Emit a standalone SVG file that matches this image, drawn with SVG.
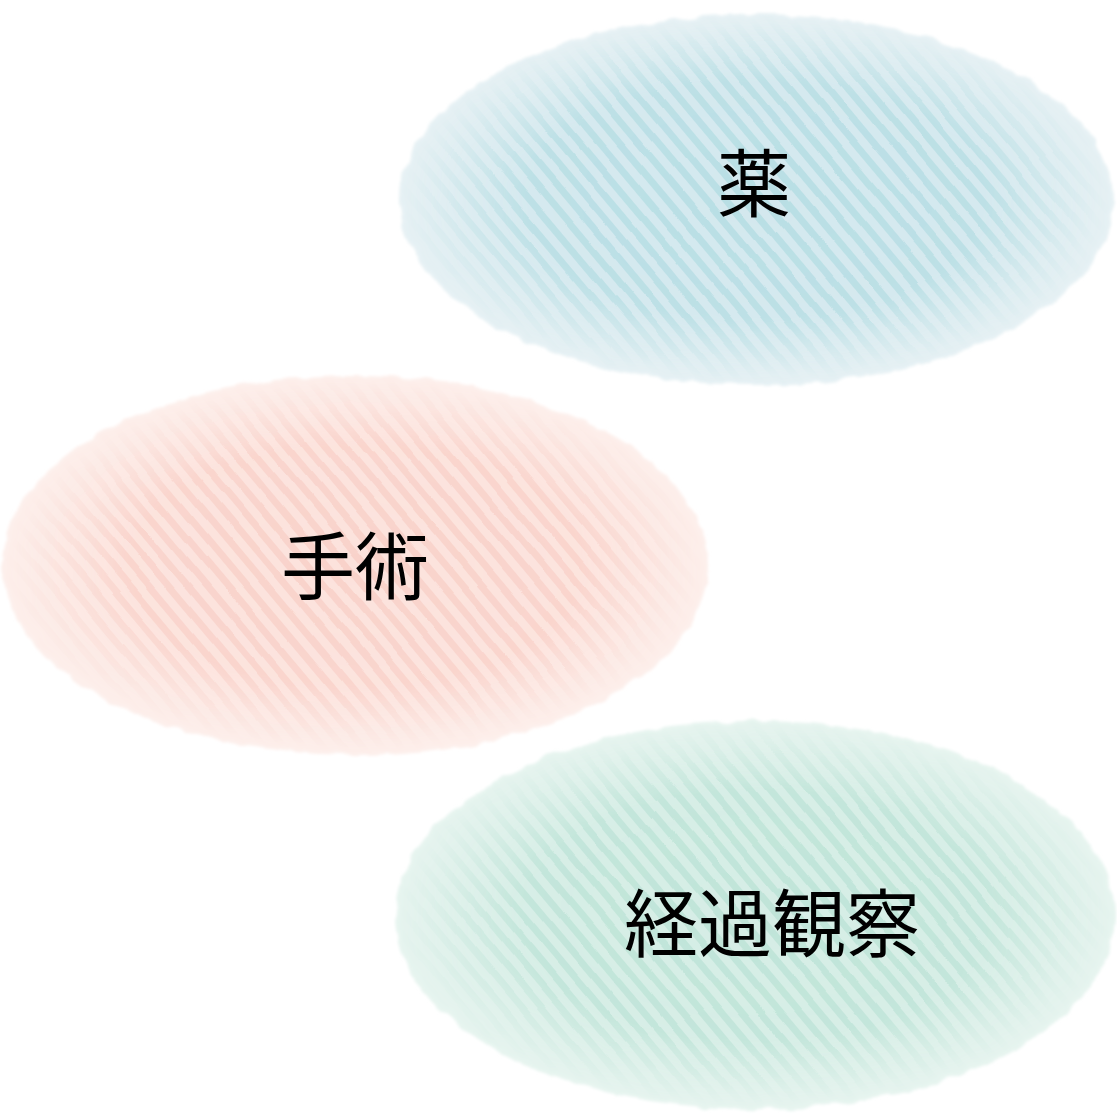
<svg xmlns="http://www.w3.org/2000/svg" width="1117" height="1114" viewBox="0 0 1117 1114">
  <style>
    .label { font-family: "Noto Sans CJK JP", "Noto Sans CJK SC", sans-serif; font-size: 74px; fill: #000; text-anchor: middle; }
  </style>
  <defs>
    <filter id="wob" x="-5%" y="-5%" width="110%" height="110%">
      <feTurbulence type="fractalNoise" baseFrequency="0.015" numOctaves="1" seed="4" result="n"/>
      <feDisplacementMap in="SourceGraphic" in2="n" scale="6" xChannelSelector="R" yChannelSelector="G"/>
    </filter>
    <filter id="soft" x="-5%" y="-5%" width="110%" height="110%">
      <feTurbulence type="fractalNoise" baseFrequency="0.05" numOctaves="2" seed="7" result="n"/>
      <feDisplacementMap in="SourceGraphic" in2="n" scale="9" xChannelSelector="R" yChannelSelector="G" result="d"/>
      <feGaussianBlur in="d" stdDeviation="1.5"/>
    </filter>
    <radialGradient id="fade">
      <stop offset="0" stop-color="#fff" stop-opacity="1"/>
      <stop offset="0.65" stop-color="#fff" stop-opacity="0.9"/>
      <stop offset="1" stop-color="#fff" stop-opacity="0"/>
    </radialGradient>
    <mask id="mBlue" maskUnits="userSpaceOnUse" x="0" y="0" width="1117" height="1114">
      <ellipse cx="756" cy="200" rx="354" ry="183" fill="url(#fade)" filter="url(#soft)"/>
    </mask>
    <mask id="mPink" maskUnits="userSpaceOnUse" x="0" y="0" width="1117" height="1114">
      <ellipse cx="355" cy="565" rx="350" ry="187" fill="url(#fade)" filter="url(#soft)"/>
    </mask>
    <mask id="mGreen" maskUnits="userSpaceOnUse" x="0" y="0" width="1117" height="1114">
      <ellipse cx="755" cy="915" rx="356" ry="191" fill="url(#fade)" filter="url(#soft)"/>
    </mask>
    <pattern id="hBlue" patternUnits="userSpaceOnUse" width="15" height="15" patternTransform="rotate(50)">
      <rect width="15" height="15" fill="#d3e8ee"/>
      <rect y="4" width="15" height="7" fill="#b8dee4"/>
    </pattern>
    <pattern id="hPink" patternUnits="userSpaceOnUse" width="15" height="15" patternTransform="rotate(50)">
      <rect width="15" height="15" fill="#fce2dc"/>
      <rect y="4" width="15" height="7" fill="#f9d2ca"/>
    </pattern>
    <pattern id="hGreen" patternUnits="userSpaceOnUse" width="15" height="15" patternTransform="rotate(50)">
      <rect width="15" height="15" fill="#d5ede5"/>
      <rect y="4" width="15" height="7" fill="#bfe4d8"/>
    </pattern>
  </defs>

  <g id="connectors"></g>

  <g id="node-kusuri">
    <ellipse cx="756" cy="200" rx="357" ry="185" fill="#e6f1f4" filter="url(#soft)"/>
    <g mask="url(#mBlue)">
      <rect x="390" y="5" width="730" height="390" fill="url(#hBlue)" filter="url(#wob)"/>
    </g>
    <text class="label" x="754" y="211">薬</text>
  </g>

  <g id="node-shujutsu">
    <ellipse cx="355" cy="565" rx="353" ry="190" fill="#fdefeb" filter="url(#soft)"/>
    <g mask="url(#mPink)">
      <rect x="0" y="370" width="715" height="395" fill="url(#hPink)" filter="url(#wob)"/>
    </g>
    <text class="label" x="355" y="594">手術</text>
  </g>

  <g id="node-keika">
    <ellipse cx="755" cy="915" rx="360" ry="194" fill="#e6f4ef" filter="url(#soft)"/>
    <g mask="url(#mGreen)">
      <rect x="390" y="715" width="730" height="400" fill="url(#hGreen)" filter="url(#wob)"/>
    </g>
    <text class="label" x="772" y="951">経過観察</text>
  </g>
</svg>
